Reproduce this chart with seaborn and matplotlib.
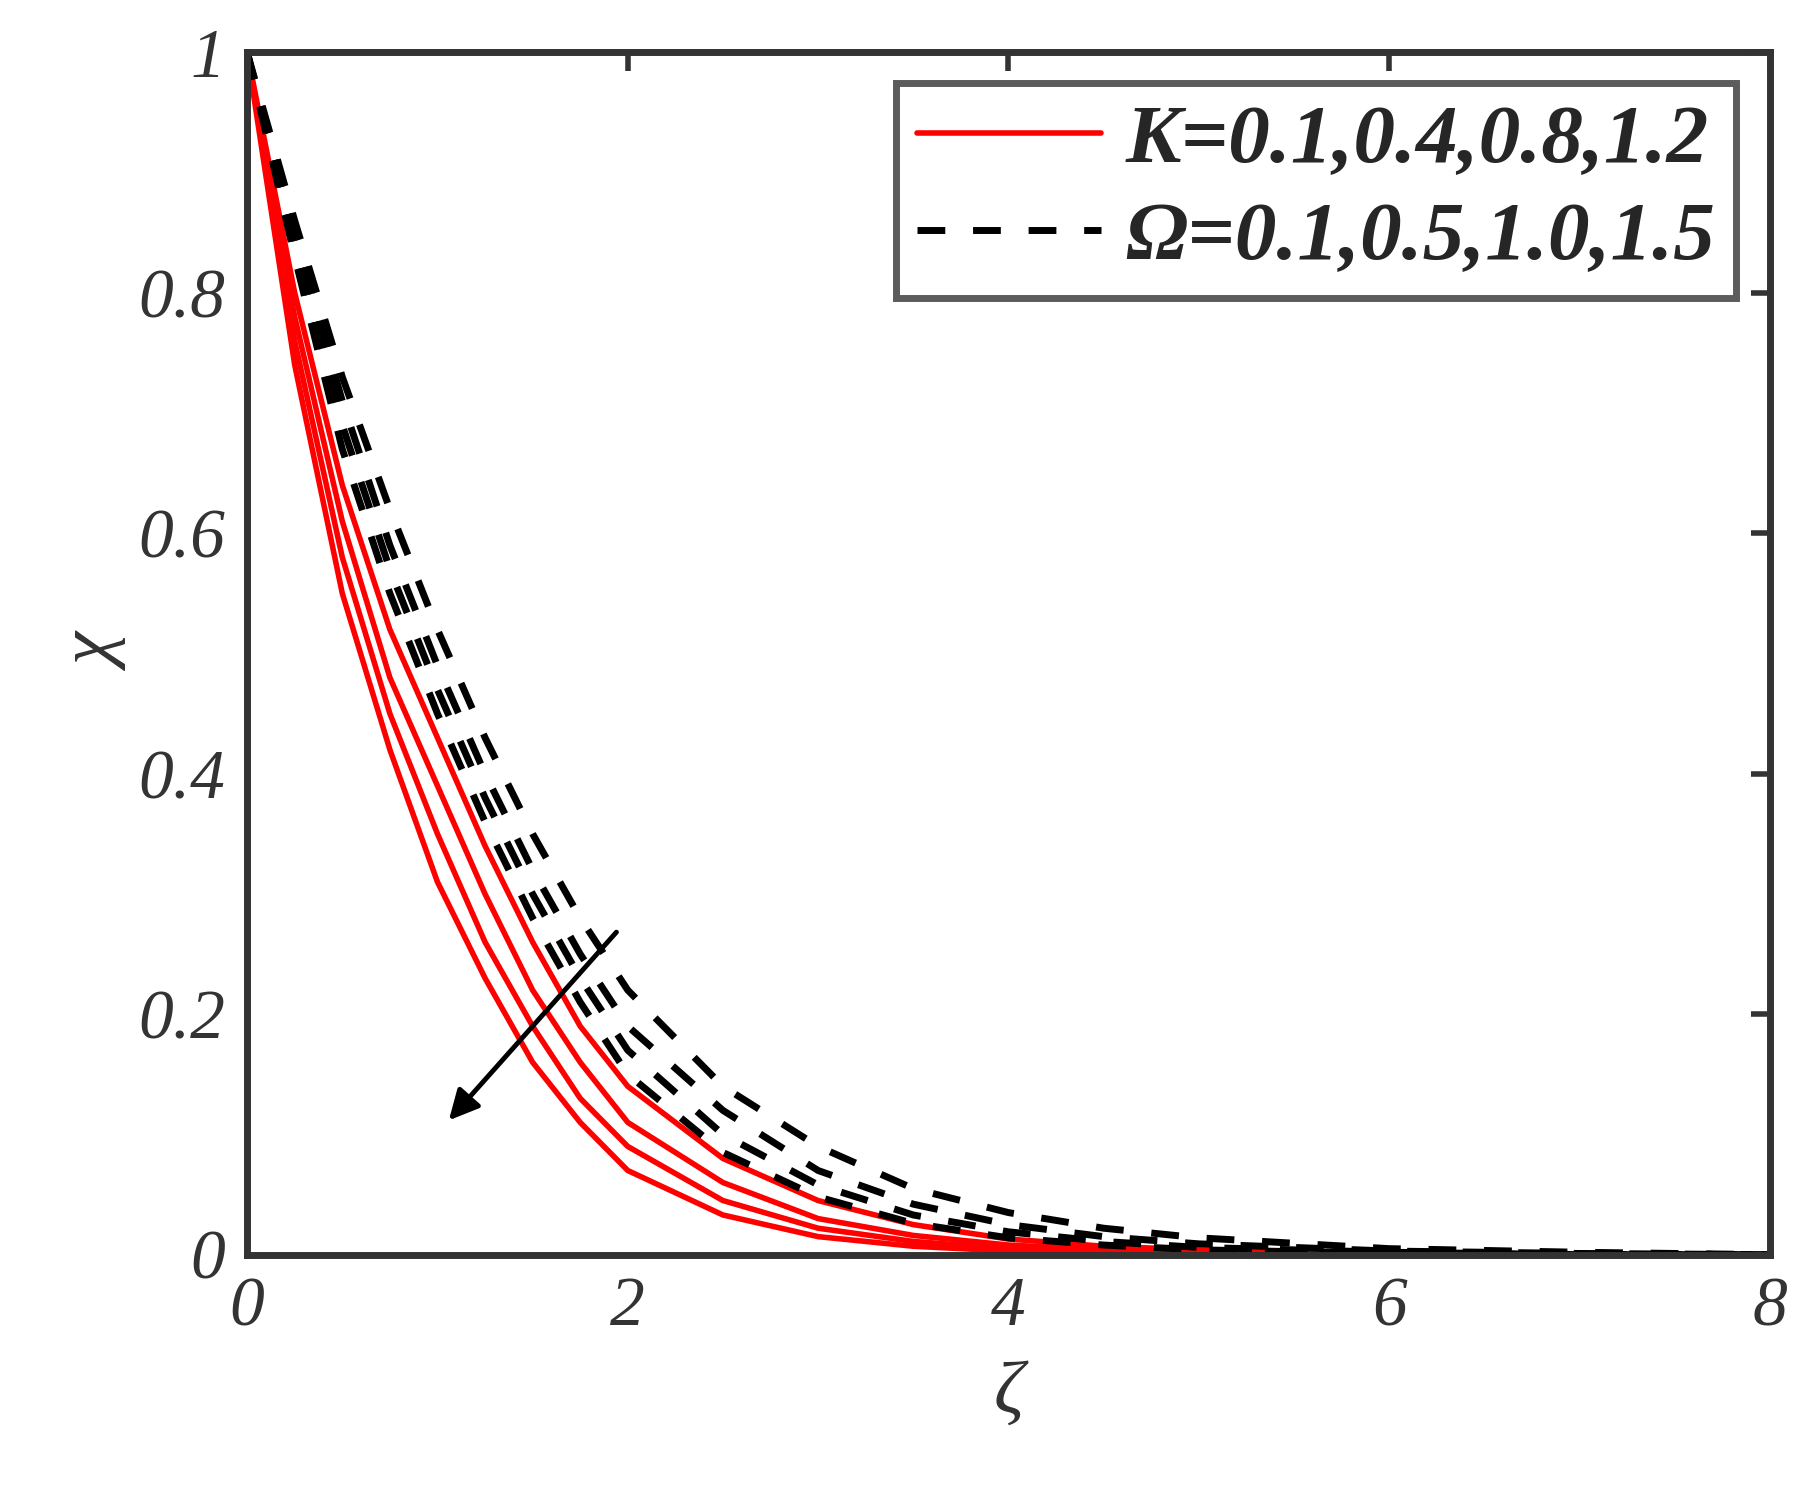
import numpy as np
import pandas as pd
import matplotlib
matplotlib.use("Agg")
import matplotlib.pyplot as plt
import seaborn as sns
from matplotlib.lines import Line2D

# -----------------------------
# DATA
# -----------------------------
zeta = [0, 0.25, 0.5, 0.75, 1, 1.25, 1.5, 1.75, 2, 2.5, 3, 3.5, 4, 4.5, 5, 6, 7, 8]

k_curves = [
    [1, .80, .64, .52, .43, .34, .26, .19, .14, .08, .045, .025, .013, .007, .004, .001, 0, 0],
    [1, .78, .61, .48, .39, .30, .22, .16, .11, .06, .03, .016, .008, .004, .002, .001, 0, 0],
    [1, .76, .58, .45, .35, .26, .19, .13, .09, .045, .022, .011, .005, .003, .001, 0, 0, 0],
    [1, .74, .55, .42, .31, .23, .16, .11, .07, .033, .015, .007, .003, .001, 0, 0, 0, 0],
]
omega_curves = [
    [1, .86, .73, .62, .52, .43, .35, .28, .22, .14, .09, .055, .035, .022, .014, .005, .002, 0],
    [1, .85, .71, .59, .49, .40, .32, .25, .19, .12, .07, .042, .025, .015, .009, .003, .001, 0],
    [1, .84, .69, .57, .47, .38, .30, .23, .17, .10, .058, .033, .019, .011, .006, .002, 0, 0],
    [1, .83, .67, .55, .45, .36, .28, .21, .15, .085, .048, .026, .014, .008, .004, .001, 0, 0],
]
k_labels = ["0.1", "0.4", "0.8", "1.2"]
omega_labels = ["0.1", "0.5", "1.0", "1.5"]

rows = []
for lab, ys in zip(k_labels, k_curves):
    for x, y in zip(zeta, ys):
        rows.append({"zeta": x, "chi": y, "curve": "K" + lab, "kind": "K"})
for lab, ys in zip(omega_labels, omega_curves):
    for x, y in zip(zeta, ys):
        rows.append({"zeta": x, "chi": y, "curve": "O" + lab, "kind": "O"})
df = pd.DataFrame(rows)

# -----------------------------
# PLOT
# -----------------------------
sns.set_style("white")
plt.rcParams["font.family"] = ["Liberation Serif", "DejaVu Serif"]

fig = plt.figure(figsize=(18.04, 14.99), dpi=100)
ax = fig.add_axes([0.137, 0.163, 0.844, 0.802])

sns.lineplot(data=df[df.kind == "K"], x="zeta", y="chi", units="curve",
             estimator=None, color="red", lw=4, ax=ax)
sns.lineplot(data=df[df.kind == "O"], x="zeta", y="chi", units="curve",
             estimator=None, color="black", lw=5, ax=ax)
for line in ax.lines[len(k_curves):]:
    line.set_dashes([4, 4])

ax.annotate("", xy=(1.05, 0.11), xytext=(1.95, 0.27),
            arrowprops=dict(arrowstyle="-|>", color="black", lw=3.5, mutation_scale=45))

ax.set_xlim(0, 8)
ax.set_ylim(0, 1)
ax.set_xticks([0, 2, 4, 6, 8])
ax.set_xticklabels(["0", "2", "4", "6", "8"])
ax.set_yticks([0, 0.2, 0.4, 0.6, 0.8, 1])
ax.set_yticklabels(["0", "0.2", "0.4", "0.6", "0.8", "1"])
ax.tick_params(direction="in", length=14, width=4, top=True, right=True,
               labelsize=50, colors="#333333", pad=16)
for t in ax.get_xticklabels() + ax.get_yticklabels():
    t.set_style("italic")
for s in ax.spines.values():
    s.set_linewidth(5)
    s.set_color("#333333")

ax.set_xlabel("ζ", fontsize=54, style="italic", color="#333333", labelpad=14)
ax.set_ylabel("χ", fontsize=54, style="italic", color="#333333")

handles = [Line2D([0], [0], color="red", lw=4),
           Line2D([0], [0], color="black", lw=5, dashes=[4, 4])]
leg = ax.legend(handles, ["K=0.1,0.4,0.8,1.2", "Ω=0.1,0.5,1.0,1.5"],
                loc="upper right", bbox_to_anchor=(0.978, 0.975), frameon=True,
                fancybox=False, handlelength=2.2, handletextpad=0.3,
                borderpad=0.25, labelspacing=0.25, borderaxespad=0.0,
                prop={"size": 60, "weight": "bold", "style": "italic"})
leg.get_frame().set_edgecolor("#333333")
leg.get_frame().set_linewidth(5)

fig.savefig("out.png", dpi=100)
